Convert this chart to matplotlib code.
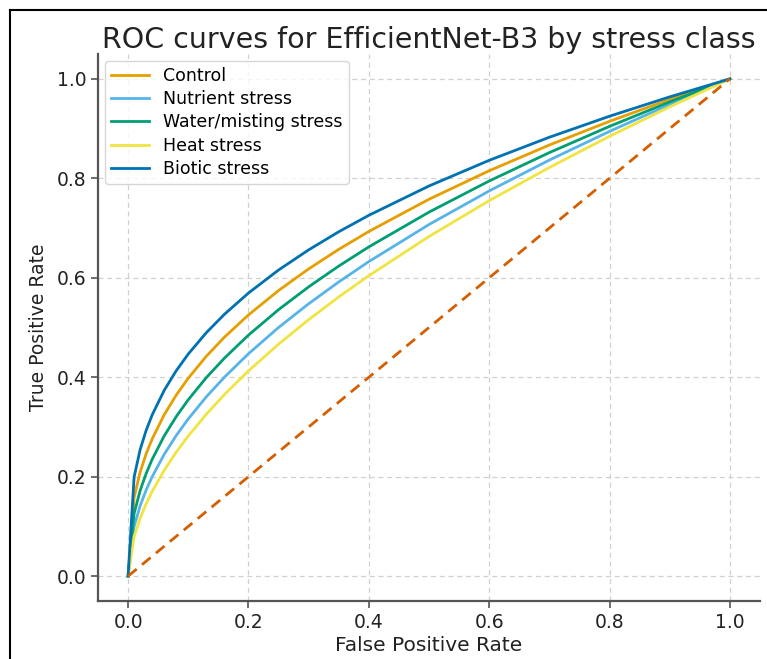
import matplotlib
matplotlib.use("Agg")
import matplotlib.pyplot as plt
from matplotlib.lines import Line2D

# False positive rate sample points (shared by all curves)
fpr = [0.0, 0.01, 0.02, 0.03, 0.04, 0.06, 0.08, 0.10, 0.13, 0.16, 0.20,
       0.25, 0.30, 0.35, 0.40, 0.50, 0.60, 0.70, 0.80, 0.90, 1.0]

tpr_control = [0.0, 0.1585, 0.2091, 0.2460, 0.2759, 0.3245, 0.3641, 0.3981, 0.4421,
               0.4805, 0.5253, 0.5743, 0.6178, 0.6571, 0.6931, 0.7579, 0.8152,
               0.8670, 0.9146, 0.9587, 1.0]
tpr_nutrient = [0.0, 0.1000, 0.1414, 0.1732, 0.2000, 0.2449, 0.2828, 0.3162, 0.3606,
                0.4000, 0.4472, 0.5000, 0.5477, 0.5916, 0.6325, 0.7071, 0.7746,
                0.8367, 0.8944, 0.9487, 1.0]
tpr_water = [0.0, 0.1259, 0.1720, 0.2064, 0.2349, 0.2820, 0.3209, 0.3548, 0.3993,
             0.4383, 0.4847, 0.5359, 0.5817, 0.6235, 0.6621, 0.7320, 0.7946,
             0.8517, 0.9045, 0.9537, 1.0]
tpr_heat = [0.0, 0.0794, 0.1163, 0.1453, 0.1703, 0.2128, 0.2493, 0.2818, 0.3256,
            0.3650, 0.4127, 0.4665, 0.5157, 0.5614, 0.6041, 0.6830, 0.7551,
            0.8218, 0.8845, 0.9437, 1.0]
tpr_biotic = [0.0, 0.1995, 0.2543, 0.2931, 0.3242, 0.3736, 0.4131, 0.4467, 0.4896,
              0.5265, 0.5693, 0.6156, 0.6561, 0.6925, 0.7256, 0.7846, 0.8362,
              0.8826, 0.9249, 0.9638, 1.0]

labels = ["Control", "Nutrient stress", "Water/misting stress", "Heat stress", "Biotic stress"]
series = [tpr_control, tpr_nutrient, tpr_water, tpr_heat, tpr_biotic]
colors = ["#E69F00", "#56B4E9", "#009E73", "#F0E442", "#0072B2"]

diag_x = [0.0, 1.0]
diag_y = [0.0, 1.0]

ticks = [0.0, 0.2, 0.4, 0.6, 0.8, 1.0]
tick_labels = ["0.0", "0.2", "0.4", "0.6", "0.8", "1.0"]

fig = plt.figure(figsize=(7.67, 6.59), dpi=100)
ax = fig.add_axes([98 / 767, 1 - 601 / 659, (760 - 98) / 767, (601 - 54) / 659])

for y, lab, c in zip(series, labels, colors):
    ax.plot(fpr, y, color=c, lw=2, label=lab)
ax.plot(diag_x, diag_y, color="#D55E00", lw=2, ls=(0, (4, 2.5)))

ax.set_xlim(-0.05, 1.05)
ax.set_ylim(-0.05, 1.05)
ax.set_xticks(ticks)
ax.set_xticklabels(tick_labels)
ax.set_yticks(ticks)
ax.set_yticklabels(tick_labels)
ax.tick_params(axis="both", labelsize=13.5, colors="#555555", labelcolor="#222222",
               direction="out", length=5, width=1.2)
ax.grid(True, ls=(0, (4, 3)), color="#d0d0d0", lw=0.9)
for s in ["top", "right"]:
    ax.spines[s].set_visible(False)
for s in ["left", "bottom"]:
    ax.spines[s].set_color("#555555")
    ax.spines[s].set_linewidth(1.6)

ax.set_xlabel("False Positive Rate", fontsize=14.5, color="#222222", labelpad=3)
ax.set_ylabel("True Positive Rate", fontsize=13.5, color="#222222", labelpad=6)
ax.set_title("ROC curves for EfficientNet-B3 by stress class", fontsize=20.5,
             color="#222222", pad=4)

leg = ax.legend(loc="upper left", fontsize=12.5, frameon=True, fancybox=True,
                borderaxespad=0.4, handlelength=2.2, labelspacing=0.3,
                borderpad=0.35)
leg.get_frame().set_edgecolor("#cccccc")
leg.get_frame().set_linewidth(1.0)

# figure border (left and top edges)
W, H = 767, 659
fig.add_artist(Line2D([10 / W, 10 / W], [0, 1 - 10 / H], color="black", lw=1.5,
                      transform=fig.transFigure))
fig.add_artist(Line2D([10 / W, 1], [1 - 10 / H, 1 - 10 / H], color="black", lw=1.5,
                      transform=fig.transFigure))

fig.savefig("out.png", dpi=100)
